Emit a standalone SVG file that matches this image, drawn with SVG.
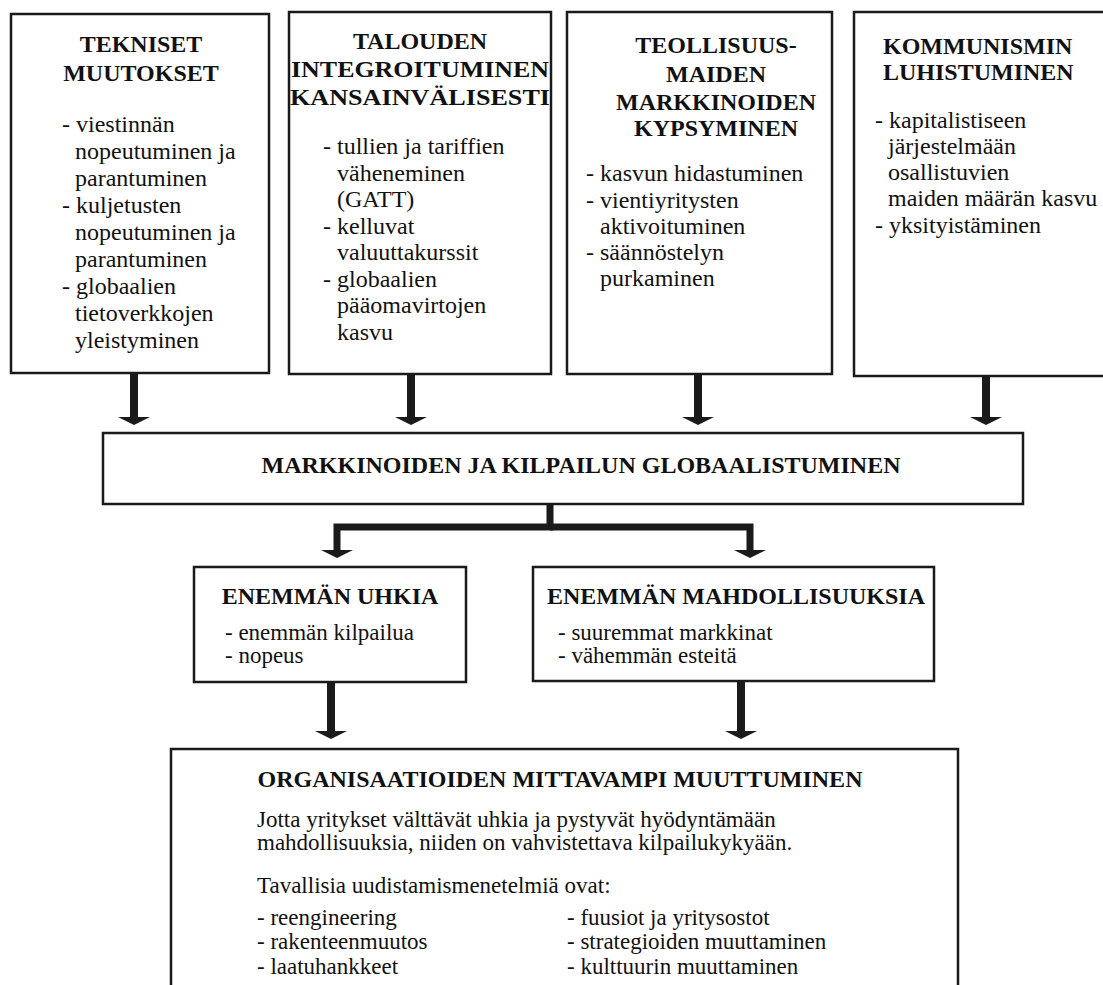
<svg xmlns="http://www.w3.org/2000/svg" width="1103" height="985" viewBox="0 0 1103 985">
<style>
.box{fill:#fff;stroke:#1a1a1a;stroke-width:2.5}
.h{font-family:"Liberation Serif","Times New Roman",serif;font-weight:bold;font-size:24px;fill:#111}
.t{font-family:"Liberation Serif","Times New Roman",serif;font-size:24px;fill:#111}
.s{font-family:"Liberation Serif","Times New Roman",serif;font-size:23px;fill:#111}
.c{text-anchor:middle}
.con{fill:none;stroke:#1a1a1a;stroke-width:8;stroke-linejoin:miter}
.con2{fill:none;stroke:#1a1a1a;stroke-width:7;stroke-linejoin:miter}
</style>
<defs>
<marker id="ah" markerUnits="userSpaceOnUse" markerWidth="9" markerHeight="34" viewBox="0 -17 9 34" refX="0" refY="0" orient="auto">
<path d="M0,-16 L8,0 L0,16 Z" fill="#1a1a1a"/>
</marker>
</defs>
<rect width="1103" height="985" fill="#fff"/>

<g id="connectors">
<path class="con" d="M134,373 V417" marker-end="url(#ah)"/>
<path class="con" d="M411,374 V417" marker-end="url(#ah)"/>
<path class="con" d="M698,374 V417" marker-end="url(#ah)"/>
<path class="con" d="M986,376 V417" marker-end="url(#ah)"/>
<path class="con2" d="M550,504 V527 H337 V550" marker-end="url(#ah)"/>
<path class="con2" d="M550,527 H750 V550" marker-end="url(#ah)"/>
<path class="con" d="M331,682 V731" marker-end="url(#ah)"/>
<path class="con" d="M741,681 V731" marker-end="url(#ah)"/>
</g>

<g id="tekniset">
<rect class="box" x="11" y="14" width="258" height="359"/>
<text class="h c" x="141" y="52">TEKNISET</text>
<text class="h c" x="141" y="81">MUUTOKSET</text>
<text class="t" x="62" y="132">- viestinnän</text>
<text class="t" x="75" y="159">nopeutuminen ja</text>
<text class="t" x="75" y="186">parantuminen</text>
<text class="t" x="62" y="213">- kuljetusten</text>
<text class="t" x="75" y="240">nopeutuminen ja</text>
<text class="t" x="75" y="267">parantuminen</text>
<text class="t" x="62" y="294">- globaalien</text>
<text class="t" x="75" y="321">tietoverkkojen</text>
<text class="t" x="75" y="348">yleistyminen</text>
</g>

<g id="talouden">
<rect class="box" x="289" y="12" width="262" height="362"/>
<text class="h c" x="420" y="49">TALOUDEN</text>
<text class="h c" x="420" y="77" textLength="258" lengthAdjust="spacingAndGlyphs">INTEGROITUMINEN</text>
<text class="h c" x="420" y="105" textLength="260" lengthAdjust="spacingAndGlyphs">KANSAINVÄLISESTI</text>
<text class="t" x="323" y="154">- tullien ja tariffien</text>
<text class="t" x="337" y="181">väheneminen</text>
<text class="t" x="337" y="207">(GATT)</text>
<text class="t" x="323" y="234">- kelluvat</text>
<text class="t" x="337" y="260">valuuttakurssit</text>
<text class="t" x="323" y="287">- globaalien</text>
<text class="t" x="337" y="313">pääomavirtojen</text>
<text class="t" x="337" y="340">kasvu</text>
</g>

<g id="teollisuus">
<rect class="box" x="567" y="12" width="265" height="362"/>
<text class="h c" x="716" y="53">TEOLLISUUS-</text>
<text class="h c" x="716" y="82">MAIDEN</text>
<text class="h c" x="716" y="110">MARKKINOIDEN</text>
<text class="h c" x="716" y="136">KYPSYMINEN</text>
<text class="t" x="586" y="181">- kasvun hidastuminen</text>
<text class="t" x="586" y="208">- vientiyritysten</text>
<text class="t" x="600" y="234">aktivoituminen</text>
<text class="t" x="586" y="260">- säännöstelyn</text>
<text class="t" x="600" y="286">purkaminen</text>
</g>

<g id="kommunismi">
<rect class="box" x="854" y="12" width="260" height="364"/>
<text class="h" x="883" y="54">KOMMUNISMIN</text>
<text class="h" x="883" y="80">LUHISTUMINEN</text>
<text class="t" x="875" y="128">- kapitalistiseen</text>
<text class="t" x="888" y="154">järjestelmään</text>
<text class="t" x="888" y="180">osallistuvien</text>
<text class="t" x="888" y="206">maiden määrän kasvu</text>
<text class="t" x="875" y="233">- yksityistäminen</text>
</g>

<g id="globalisaatio">
<rect class="box" x="103" y="433" width="920" height="71"/>
<text class="h c" x="581" y="473">MARKKINOIDEN JA KILPAILUN GLOBAALISTUMINEN</text>
</g>

<g id="uhkia">
<rect class="box" x="194" y="567" width="272" height="115"/>
<text class="h c" x="330" y="604">ENEMMÄN UHKIA</text>
<text class="s" x="225" y="640">- enemmän kilpailua</text>
<text class="s" x="225" y="663">- nopeus</text>
</g>

<g id="mahdollisuuksia">
<rect class="box" x="533" y="567" width="401" height="114"/>
<text class="h c" x="736" y="604">ENEMMÄN MAHDOLLISUUKSIA</text>
<text class="s" x="558" y="640">- suuremmat markkinat</text>
<text class="s" x="558" y="663">- vähemmän esteitä</text>
</g>

<g id="muuttuminen">
<rect class="box" x="171" y="749" width="787" height="260"/>
<text class="h c" x="560" y="787">ORGANISAATIOIDEN MITTAVAMPI MUUTTUMINEN</text>
<text class="s" x="257" y="827">Jotta yritykset välttävät uhkia ja pystyvät hyödyntämään</text>
<text class="s" x="257" y="850">mahdollisuuksia, niiden on vahvistettava kilpailukykyään.</text>
<text class="s" x="257" y="893">Tavallisia uudistamismenetelmiä ovat:</text>
<text class="s" x="257" y="925">- reengineering</text>
<text class="s" x="257" y="949">- rakenteenmuutos</text>
<text class="s" x="257" y="974">- laatuhankkeet</text>
<text class="s" x="567" y="925">- fuusiot ja yritysostot</text>
<text class="s" x="567" y="949">- strategioiden muuttaminen</text>
<text class="s" x="567" y="974">- kulttuurin muuttaminen</text>
</g>
</svg>
